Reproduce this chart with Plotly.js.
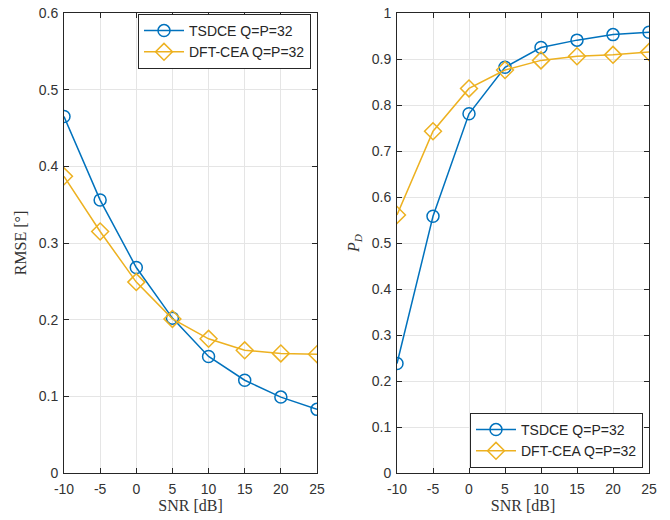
<!DOCTYPE html>
<html>
<head>
<meta charset="utf-8">
<script src="https://cdn.plot.ly/plotly-3.0.1.min.js"></script>
<style>html,body{margin:0;padding:0;background:#fff;}#plot{width:670px;height:520px;}</style>
</head>
<body>
<div id="plot"></div>
<script>
var snr = [-10, -5, 0, 5, 10, 15, 20, 25];
var rmseTSDCE = [0.465, 0.356, 0.268, 0.202, 0.152, 0.121, 0.099, 0.083];
var rmseDFT = [0.387, 0.315, 0.249, 0.201, 0.175, 0.160, 0.156, 0.155];
var pdTSDCE = [0.238, 0.558, 0.781, 0.882, 0.925, 0.941, 0.953, 0.958];
var pdDFT = [0.561, 0.743, 0.836, 0.876, 0.897, 0.906, 0.909, 0.915];
var rmseTicks = [0, 0.1, 0.2, 0.3, 0.4, 0.5, 0.6];
var pdTicks = [0, 0.1, 0.2, 0.3, 0.4, 0.5, 0.6, 0.7, 0.8, 0.9, 1];
var nameTSDCE = 'TSDCE Q=P=32';
var nameDFT = 'DFT-CEA Q=P=32';

var blue = '#0072BD', gold = '#EDB120';
function tr(x, y, name, color, sym, xa, ya, leg) {
  return {
    x: x, y: y, name: name, type: 'scatter', mode: 'lines+markers',
    xaxis: xa, yaxis: ya, legend: leg,
    line: {color: color, width: 1.5},
    marker: {symbol: sym, size: sym === 'circle-open' ? 12 : 13, color: color, line: {color: color, width: 1.5}}
  };
}
var data = [
  tr(snr, rmseTSDCE, nameTSDCE, blue, 'circle-open', 'x', 'y', 'legend'),
  tr(snr, rmseDFT, nameDFT, gold, 'diamond-open', 'x', 'y', 'legend'),
  tr(snr, pdTSDCE, nameTSDCE, blue, 'circle-open', 'x2', 'y2', 'legend2'),
  tr(snr, pdDFT, nameDFT, gold, 'diamond-open', 'x2', 'y2', 'legend2')
];

var tickFont = {family: 'Liberation Sans, Arial, sans-serif', size: 14, color: '#333333'};
var titleFont = {family: 'Liberation Serif, Times New Roman, serif', size: 16, color: '#333333'};
function xax(dom, anchor) {
  return {
    domain: dom, anchor: anchor, range: [-10, 25], tickvals: snr,
    ticktext: snr.map(String),
    showgrid: true, gridcolor: '#e5e5e5', gridwidth: 1, zeroline: false,
    showline: true, linecolor: '#262626', linewidth: 1, mirror: 'ticks',
    ticks: 'inside', ticklen: 5, tickcolor: '#262626', tickfont: tickFont,
    ticklabelstandoff: 3,
    title: {text: 'SNR [dB]', font: titleFont, standoff: 4}
  };
}
function yax(dom, anchor, range, ticks, title) {
  return {
    domain: dom, anchor: anchor, range: range, tickvals: ticks,
    ticktext: ticks.map(String),
    showgrid: true, gridcolor: '#e5e5e5', gridwidth: 1, zeroline: false,
    showline: true, linecolor: '#262626', linewidth: 1, mirror: 'ticks',
    ticks: 'inside', ticklen: 5, tickcolor: '#262626', tickfont: tickFont,
    ticklabelstandoff: 2,
    title: {text: title, font: titleFont, standoff: 8}
  };
}
var yd = [1 - 473/520, 1 - 13/520];
var legStyle = function(x, y, xa, ya) {
  return {x: x, y: y, xanchor: xa, yanchor: ya, xref: 'paper', yref: 'paper',
    bgcolor: '#ffffff', bordercolor: '#262626', borderwidth: 1,
    font: {family: 'Liberation Sans, Arial, sans-serif', size: 14, color: '#262626'},
    tracegroupgap: 0, itemwidth: 40};
};
var layout = {
  width: 670, height: 520,
  margin: {l: 0, r: 0, t: 0, b: 0},
  paper_bgcolor: '#fff', plot_bgcolor: '#fff',
  showlegend: true,
  xaxis: xax([64/670, 317/670], 'y'),
  yaxis: yax(yd, 'x', [0, 0.6], rmseTicks, 'RMSE [°]'),
  xaxis2: xax([397/670, 649/670], 'y2'),
  yaxis2: yax(yd, 'x2', [0, 1], pdTicks, '<i>P</i><sub><i>D</i></sub>'),
  legend: legStyle(311/670, 1 - 14/520, 'right', 'top'),
  legend2: legStyle(643/670, 1 - 468/520, 'right', 'bottom')
};
Plotly.newPlot('plot', data, layout, {displayModeBar: false, staticPlot: true});
</script>
</body>
</html>
